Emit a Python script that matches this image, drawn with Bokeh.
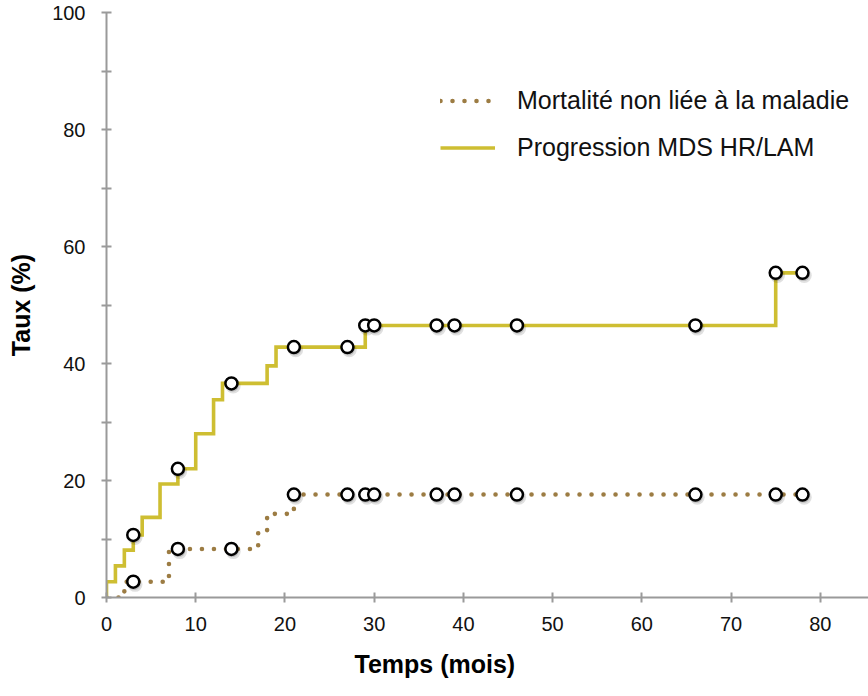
import numpy as np
from bokeh.plotting import figure
from bokeh.models import (FixedTicker, Legend, LegendItem, Title, ColumnDataSource)
from bokeh.transform import dodge
from bokeh.embed import file_html
from bokeh.resources import INLINE

# Cumulative incidence curves (months, %)
prog_t = [0, 0, 1, 2, 3, 4, 6, 8, 10, 12, 13, 18, 19, 29, 75, 78]
prog_y = [0, 2.7, 5.4, 8.1, 10.7, 13.7, 19.4, 22.0, 28.0, 33.8, 36.6, 39.6, 42.8, 46.5, 55.5, 55.5]

mort_t = [0, 2, 7, 17, 18, 21, 78]
mort_y = [0, 2.7, 8.3, 11.3, 14.3, 17.6, 17.6]

# Censored observations (months)
censor_t = [3, 8, 14, 21, 27, 29, 30, 37, 39, 46, 66, 75, 78]

x_ticks = [0, 10, 20, 30, 40, 50, 60, 70, 80]
y_ticks = [0, 20, 40, 60, 80, 100]
y_minor = [10, 30, 50, 70, 90]

label_prog = "Progression MDS HR/LAM"
label_mort = "Mortalité non liée à la maladie"
x_title = "Temps (mois)"
y_title = "Taux (%)"

YELLOW = "#CEBE32"
BROWN = "#9C7C43"
AXIS = "#9A9A9A"
FONT = "Liberation Sans"


def level_at(ts, ys, when):
    idx = np.searchsorted(np.asarray(ts), np.asarray(when), side="right") - 1
    return list(np.asarray(ys)[idx])


p = figure(width=868, height=696, x_range=(0, 85.4), y_range=(0, 100),
           output_backend="svg", toolbar_location=None,
           min_border_left=106, min_border_right=0,
           min_border_top=12, min_border_bottom=99)
p.outline_line_color = None
p.grid.visible = False
p.background_fill_color = "white"
p.border_fill_color = "white"

for ax in (p.xaxis[0], p.yaxis[0]):
    ax.axis_line_color = AXIS
    ax.axis_line_width = 2
    ax.major_tick_line_color = AXIS
    ax.major_tick_line_width = 2
    ax.minor_tick_line_color = AXIS
    ax.minor_tick_line_width = 2
    ax.major_tick_in = 5
    ax.major_tick_out = 5
    ax.minor_tick_in = 5
    ax.minor_tick_out = 5
    ax.major_label_text_font = FONT
    ax.major_label_text_font_size = "20px"
    ax.major_label_text_color = "#111111"

p.xaxis.ticker = FixedTicker(ticks=x_ticks)
p.xaxis.major_label_standoff = 14
p.yaxis.ticker = FixedTicker(ticks=y_ticks, minor_ticks=y_minor)
p.yaxis.major_label_standoff = 16

p.yaxis.axis_label = y_title
p.yaxis.axis_label_text_font = FONT
p.yaxis.axis_label_text_font_style = "bold"
p.yaxis.axis_label_text_font_size = "25px"
p.yaxis.axis_label_text_color = "#000000"
p.yaxis.axis_label_standoff = 14

# x title, set below the axis and shifted left of centre
p.add_layout(Title(text=x_title, align="left", offset=248, standoff=28,
                   text_font=FONT, text_font_style="bold", text_font_size="25px",
                   text_color="#000000"), "below")

# curves
r_mort = p.step(mort_t, mort_y, mode="after", line_color=BROWN, line_width=4.6,
                line_dash="0 12", line_cap="round")
r_prog = p.step(prog_t, prog_y, mode="after", line_color=YELLOW, line_width=3.6,
                line_join="miter")

# censor marks with a soft drop shadow
cen = ColumnDataSource(dict(
    t=censor_t + censor_t,
    y=level_at(mort_t, mort_y, censor_t) + level_at(prog_t, prog_y, censor_t),
))
p.scatter(x=dodge("t", 0.2, range=p.x_range), y=dodge("y", -0.45, range=p.y_range),
          source=cen, size=15, fill_color="black", fill_alpha=0.12, line_color=None)
p.scatter(x=dodge("t", 0.12, range=p.x_range), y=dodge("y", -0.3, range=p.y_range),
          source=cen, size=13, fill_color="black", fill_alpha=0.15, line_color=None)
p.scatter(x="t", y="y", source=cen, size=12, fill_color="white",
          line_color="black", line_width=2.5)

legend = Legend(items=[LegendItem(label=label_mort, renderers=[r_mort]),
                       LegendItem(label=label_prog, renderers=[r_prog])],
                location=(334, 435), orientation="vertical")
legend.border_line_color = None
legend.background_fill_alpha = 0
legend.margin = 0
legend.padding = 0
legend.glyph_width = 55
legend.glyph_height = 25
legend.label_height = 25
legend.spacing = 18
legend.label_standoff = 22
legend.label_text_font = FONT
legend.label_text_font_size = "25px"
legend.label_text_color = "#111111"
p.add_layout(legend)

open("out.html", "w").write(file_html(p, INLINE))
